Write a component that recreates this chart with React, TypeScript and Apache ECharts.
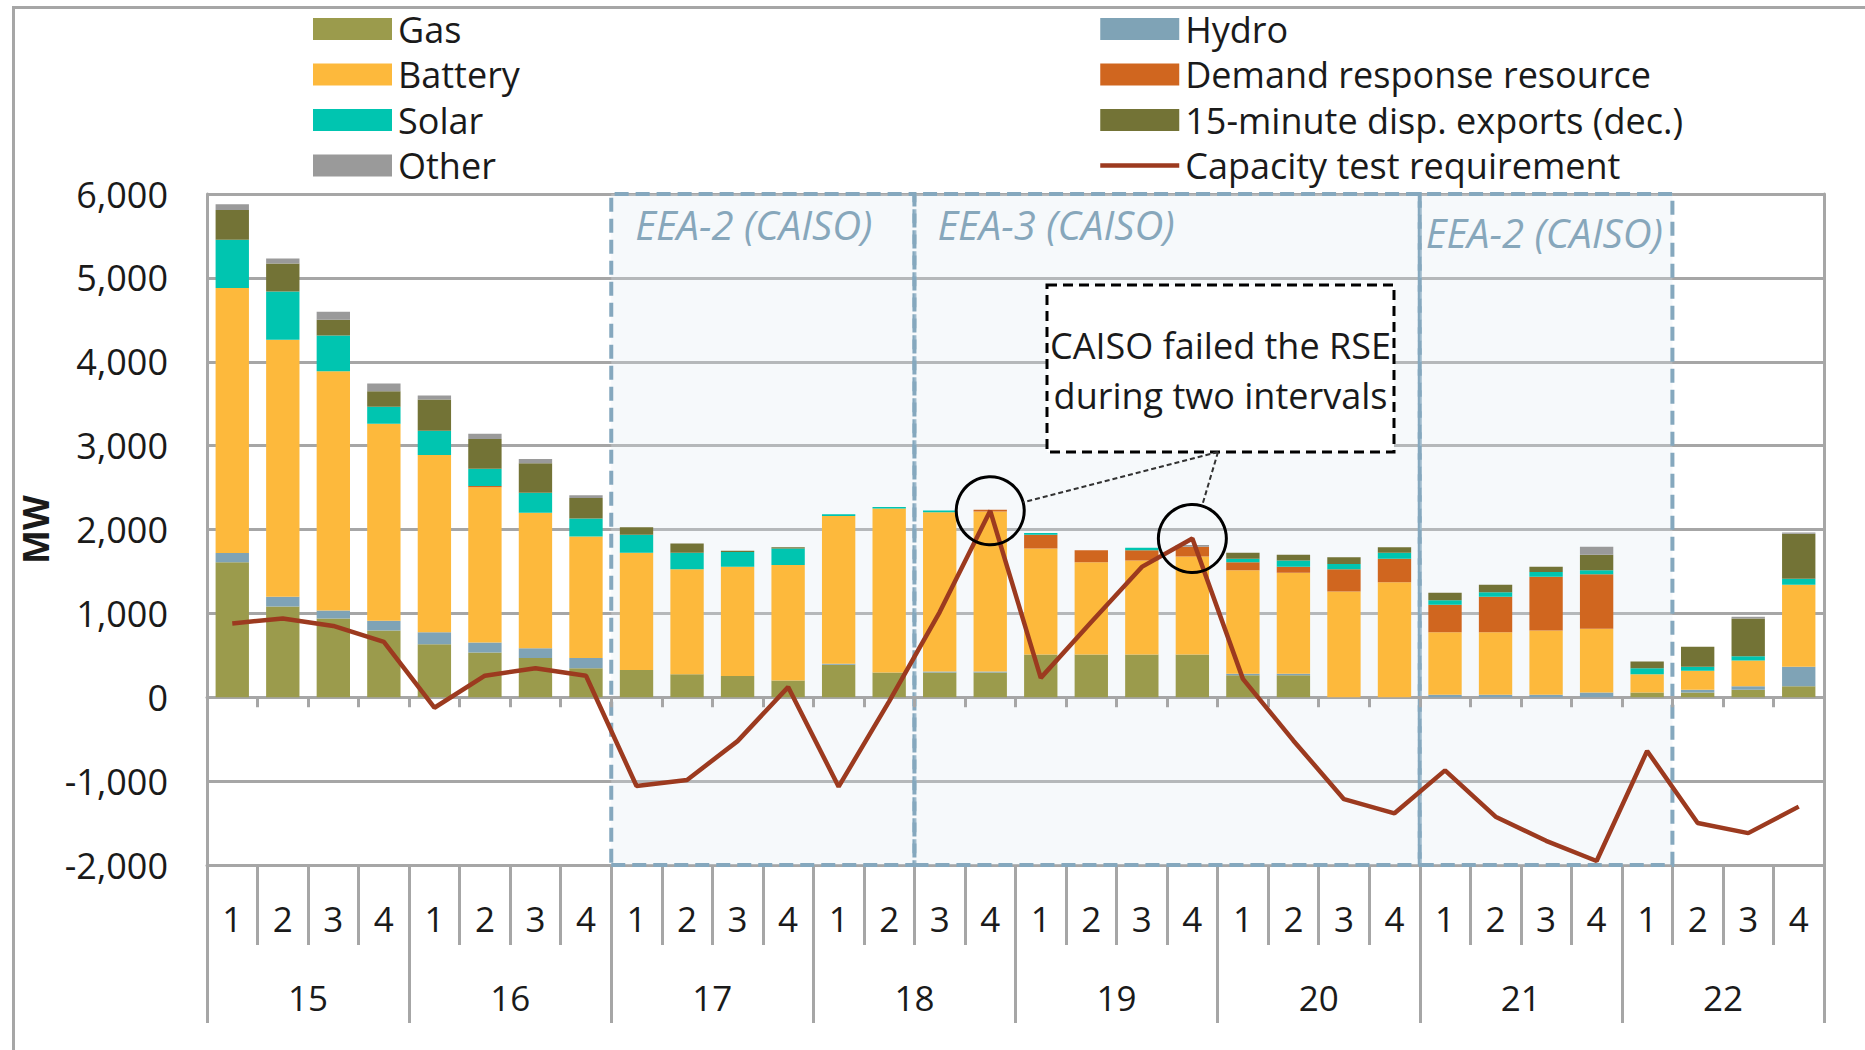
import React, { useEffect, useRef } from 'react';
import * as echarts from 'echarts';

const hours = ['15', '16', '17', '18', '19', '20', '21', '22'];
const intervals = ['1', '2', '3', '4'];
const categories = hours.flatMap((h) => intervals.map((i) => `${h}-${i}`));

const gas = [1610, 1083, 940, 796, 632, 533, 468, 345, 324, 275, 254, 201, 386, 295, 295, 295, 509, 509, 509, 509, 263, 263, 0, 0, 0, 0, 0, 0, 57, 57, 90, 131];
const hydro = [110, 115, 94, 115, 144, 119, 115, 123, 0, 0, 0, 0, 12, 0, 12, 12, 0, 0, 0, 0, 16, 16, 0, 0, 30, 30, 30, 57, 0, 33, 41, 234];
const battery = [3160, 3065, 2852, 2351, 2113, 1851, 1616, 1448, 1399, 1251, 1301, 1375, 1764, 1954, 1900, 1908, 1264, 1100, 1120, 1169, 1235, 1206, 1260, 1371, 746, 746, 766, 760, 218, 226, 308, 977];
const demandResponse = [0, 0, 0, 0, 0, 16, 0, 0, 0, 0, 0, 0, 0, 0, 0, 21, 164, 143, 123, 115, 95, 70, 266, 279, 328, 422, 640, 648, 0, 0, 0, 0];
const solar = [575, 575, 427, 201, 287, 206, 238, 214, 214, 197, 177, 197, 21, 20, 21, 0, 20, 0, 29, 0, 41, 74, 62, 73, 53, 54, 58, 49, 70, 49, 49, 70];
const exports15 = [353, 332, 188, 185, 373, 353, 353, 246, 90, 111, 16, 16, 0, 0, 0, 0, 0, 0, 0, 0, 73, 70, 82, 66, 90, 90, 61, 185, 82, 238, 452, 537];
const other = [70, 62, 95, 94, 50, 65, 50, 33, 0, 0, 0, 0, 0, 0, 0, 0, 0, 0, 0, 21, 0, 0, 0, 0, 0, 0, 0, 94, 0, 0, 20, 16];
const capacityTest = [880, 940, 850, 660, -125, 257, 346, 257, -1058, -986, -523, 121, -1066, -48, 1016, 2223, 231, 896, 1554, 1892, 219, -518, -1215, -1384, -872, -1424, -1712, -1952, -640, -1500, -1620, -1304];

const eeaLabels = ['EEA-2 (CAISO)', 'EEA-3 (CAISO)', 'EEA-2 (CAISO)'];
const eeaStarts = [8, 14, 24];
const eeaEnds = [14, 24, 29];
const failedIdx = [15, 19];
const calloutText = ['CAISO failed the RSE', 'during two intervals'];

const yMin = -2000;
const yMax = 6000;
const yStep = 1000;

const FONT = "'Open Sans', 'Liberation Sans', sans-serif";
const GRID_GRAY = '#a6a6a6';
const TEXT = '#1a1a1a';
const LINE_RED = '#9c3a1f';
const eeaLabelPos = [[26, 12], [25, 12], [8, 20]];

export default function App() {
  const ref = useRef<HTMLDivElement>(null);

  useEffect(() => {
    if (!ref.current) return;
    const chart = echarts.init(ref.current, null, { renderer: 'svg' });

    const barSeries = [
      { name: 'Gas', data: gas, color: '#9b9b4c' },
      { name: 'Hydro', data: hydro, color: '#7fa3b6' },
      { name: 'Battery', data: battery, color: '#fdb93c' },
      { name: 'Demand response resource', data: demandResponse, color: '#d0661f' },
      { name: 'Solar', data: solar, color: '#00c5b0' },
      { name: '15-minute disp. exports (dec.)', data: exports15, color: '#737336' },
      { name: 'Other', data: other, color: '#9a9a9a' },
    ].map((s) => ({
      name: s.name,
      type: 'bar',
      stack: 'total',
      data: s.data,
      xAxisIndex: 0,
      yAxisIndex: 0,
      barCategoryGap: '34%',
      itemStyle: { color: s.color },
      z: 2,
    }));

    const legendText = { fontSize: 36, color: TEXT, fontFamily: FONT, lineHeight: 36, padding: [0, 0, 0, 1] };

    const option: any = {
      animation: false,
      textStyle: { fontFamily: FONT },
      grid: { left: 207, right: 41, top: 194, bottom: 185, containLabel: false },
      legend: [
        {
          orient: 'vertical',
          left: 313,
          top: 11,
          padding: 0,
          itemWidth: 79,
          itemHeight: 22,
          itemGap: 9.5,
          icon: 'rect',
          textStyle: legendText,
          data: ['Gas', 'Battery', 'Solar', 'Other'],
        },
        {
          orient: 'vertical',
          left: 1098,
          top: 11,
          padding: 0,
          itemWidth: 79,
          itemHeight: 22,
          itemGap: 9.5,
          textStyle: legendText,
          data: [
            { name: 'Hydro', icon: 'rect' },
            { name: 'Demand response resource', icon: 'rect' },
            { name: '15-minute disp. exports (dec.)', icon: 'rect' },
            {
              name: 'Capacity test requirement',
              itemStyle: { color: 'rgba(0,0,0,0)', borderWidth: 0, opacity: 0 },
              lineStyle: { color: LINE_RED, width: 4.5 },
            },
          ],
        },
      ],
      xAxis: [
        {
          type: 'category',
          data: categories,
          position: 'bottom',
          boundaryGap: true,
          axisLine: { show: true, onZero: true, lineStyle: { color: GRID_GRAY, width: 3 } },
          axisTick: { show: true, interval: 0, length: 10, lineStyle: { color: GRID_GRAY, width: 3 } },
          axisLabel: { show: false },
          splitLine: { show: false },
          z: 1,
        },
        {
          type: 'category',
          data: categories,
          position: 'bottom',
          boundaryGap: true,
          axisLine: { show: true, onZero: false, lineStyle: { color: GRID_GRAY, width: 3 } },
          axisTick: { show: true, interval: 0, length: 80, lineStyle: { color: GRID_GRAY, width: 3 } },
          axisLabel: {
            show: true,
            interval: 0,
            margin: 53,
            verticalAlign: 'middle',
            fontSize: 35,
            color: TEXT,
            fontFamily: FONT,
            formatter: (v: string) => v.split('-')[1],
          },
          splitLine: { show: false },
        },
        {
          type: 'category',
          data: hours,
          position: 'bottom',
          boundaryGap: true,
          axisLine: { show: false, onZero: false },
          axisTick: { show: true, interval: 0, length: 158, lineStyle: { color: GRID_GRAY, width: 3 } },
          axisLabel: {
            show: true,
            interval: 0,
            margin: 132,
            verticalAlign: 'middle',
            fontSize: 35,
            color: TEXT,
            fontFamily: FONT,
          },
          splitLine: { show: false },
        },
        {
          type: 'value',
          min: 0,
          max: categories.length,
          position: 'top',
          show: false,
        },
      ],
      yAxis: [
        {
          type: 'value',
          min: yMin,
          max: yMax,
          interval: yStep,
          position: 'left',
          name: 'MW',
          nameLocation: 'middle',
          nameRotate: 90,
          nameGap: 150,
          nameTextStyle: { fontSize: 36, fontWeight: 'bold', color: TEXT, fontFamily: FONT },
          axisLine: { show: true, onZero: false, lineStyle: { color: GRID_GRAY, width: 3 } },
          axisTick: { show: false },
          axisLabel: {
            fontSize: 36,
            color: TEXT,
            margin: 39,
            fontFamily: FONT,
            formatter: (v: number) => v.toLocaleString('en-US'),
          },
          splitLine: { show: true, lineStyle: { color: GRID_GRAY, width: 3 } },
        },
        {
          type: 'value',
          min: yMin,
          max: yMax,
          interval: yStep,
          position: 'right',
          axisLine: { show: true, onZero: false, lineStyle: { color: GRID_GRAY, width: 3 } },
          axisTick: { show: false },
          axisLabel: { show: false },
          splitLine: { show: false },
        },
      ],
      series: [
        {
          name: 'eea',
          type: 'line',
          data: [],
          xAxisIndex: 3,
          yAxisIndex: 0,
          silent: true,
          z: 1,
          markArea: {
            silent: true,
            itemStyle: {
              color: 'rgba(222,232,242,0.28)',
              borderColor: '#85a8be',
              borderWidth: 4,
              borderType: [14, 7],
            },
            label: {
              show: true,
              color: '#87a7bb',
              fontStyle: 'italic',
              fontSize: 40,
              fontFamily: FONT,
            },
            data: eeaLabels.map((lab, k) => [
              { name: lab, xAxis: eeaStarts[k], label: { position: eeaLabelPos[k], align: 'left', verticalAlign: 'top' } },
              { xAxis: eeaEnds[k] },
            ]),
          },
        },
        ...barSeries,
        {
          name: 'Capacity test requirement',
          type: 'line',
          data: capacityTest,
          xAxisIndex: 0,
          yAxisIndex: 0,
          symbol: 'none',
          lineStyle: { color: LINE_RED, width: 4.5 },
          itemStyle: { color: LINE_RED },
          z: 4,
          markPoint: {
            symbol: 'circle',
            symbolSize: 68,
            silent: true,
            label: { show: false },
            itemStyle: { color: 'rgba(0,0,0,0)', borderColor: '#000', borderWidth: 3 },
            data: failedIdx.map((i) => ({ coord: [categories[i], capacityTest[i]] })),
          },
        },
      ],
    };

    chart.setOption(option);

    // callout box and leader lines
    const box = { x: 1047, y: 285, w: 347, h: 167 };
    const anchor = [1218, box.y + box.h];
    const r = 34;
    const leaders = failedIdx.map((i) => {
      const p = chart.convertToPixel({ xAxisIndex: 0, yAxisIndex: 0 }, [categories[i], capacityTest[i]]) as number[];
      const dx = anchor[0] - p[0];
      const dy = anchor[1] - p[1];
      const len = Math.sqrt(dx * dx + dy * dy);
      return {
        type: 'line',
        z: 10,
        shape: { x1: anchor[0], y1: anchor[1], x2: p[0] + (dx / len) * r, y2: p[1] + (dy / len) * r },
        style: { stroke: '#333', lineWidth: 2, lineDash: [5, 3] },
      };
    });

    chart.setOption({
      graphic: {
        elements: [
          {
            type: 'rect',
            left: 11,
            top: 5,
            shape: { x: 0, y: 0, width: 1880, height: 1070 },
            style: { fill: 'none', stroke: GRID_GRAY, lineWidth: 3 },
            silent: true,
            z: 0,
          },
          {
            type: 'rect',
            shape: { x: box.x, y: box.y, width: box.w, height: box.h },
            style: { fill: '#ffffff', stroke: '#000', lineWidth: 3, lineDash: [10, 6] },
            z: 10,
          },
          {
            type: 'text',
            x: box.x + box.w / 2,
            y: 370,
            z: 11,
            style: {
              text: calloutText.join('\n'),
              fill: TEXT,
              fontSize: 36,
              fontFamily: FONT,
              lineHeight: 50,
              align: 'center',
              verticalAlign: 'middle',
            },
          },
          ...leaders,
        ],
      },
    });

    return () => chart.dispose();
  }, []);

  return (
    <div
      ref={ref}
      style={{ position: 'fixed', left: 0, top: 0, width: 1865, height: 1050, background: '#ffffff' }}
    />
  );
}
